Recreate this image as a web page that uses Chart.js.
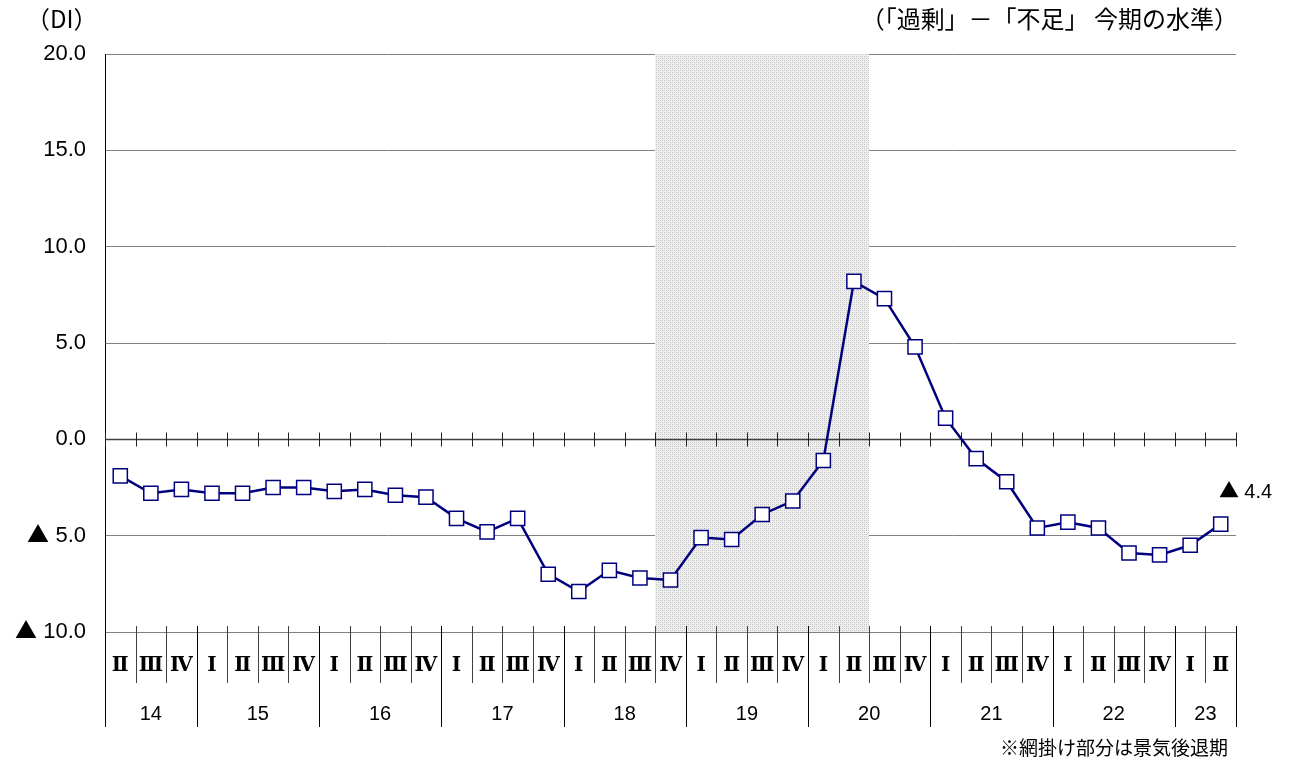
<!DOCTYPE html>
<html>
<head>
<meta charset="utf-8">
<script src="https://cdn.jsdelivr.net/npm/chart.js@4"></script>
<style>
  body { margin: 0; background: #fff; }
  #chart { display: block; }
  /* take only the triangle from the CJK font so it matches the original size */
  @font-face {
    font-family: 'TriMark';
    src: local('Noto Sans CJK JP'), local('Noto Sans CJK JP Regular'), local('NotoSansCJKjp-Regular');
    unicode-range: U+25B2;
  }
</style>
</head>
<body>
<canvas id="chart" width="1292" height="762"></canvas>
<script>
// Years on the lower axis and how many quarters each one has in the chart
const years = ['14', '15', '16', '17', '18', '19', '20', '21', '22', '23'];
const yearQuarters = [
    ['Ⅱ', 'Ⅲ', 'Ⅳ'],
    ['Ⅰ', 'Ⅱ', 'Ⅲ', 'Ⅳ'],
    ['Ⅰ', 'Ⅱ', 'Ⅲ', 'Ⅳ'],
    ['Ⅰ', 'Ⅱ', 'Ⅲ', 'Ⅳ'],
    ['Ⅰ', 'Ⅱ', 'Ⅲ', 'Ⅳ'],
    ['Ⅰ', 'Ⅱ', 'Ⅲ', 'Ⅳ'],
    ['Ⅰ', 'Ⅱ', 'Ⅲ', 'Ⅳ'],
    ['Ⅰ', 'Ⅱ', 'Ⅲ', 'Ⅳ'],
    ['Ⅰ', 'Ⅱ', 'Ⅲ', 'Ⅳ'],
    ['Ⅰ', 'Ⅱ']
];

// DI values (「過剰」－「不足」), one per quarter
const diValues = [
    -1.9, -2.8, -2.6,
    -2.8, -2.8, -2.5, -2.5,
    -2.7, -2.6, -2.9, -3.0,
    -4.1, -4.8, -4.1, -7.0,
    -7.9, -6.8, -7.2, -7.3,
    -5.1, -5.2, -3.9, -3.2,
    -1.1, 8.2, 7.3, 4.8,
    1.1, -1.0, -2.2, -4.6,
    -4.3, -4.6, -5.9, -6.0,
    -5.5, -4.4
];

// Y axis ticks and their printed text
const yTickValues = [20, 15, 10, 5, 0, -5, -10];
const yTickTexts = ['20.0', '15.0', '10.0', '5.0', '0.0', '▲ 5.0', '▲ 10.0'];

// Recession (shaded) period, first and last quarter
const recessionFrom = '18-Ⅳ';
const recessionTo = '20-Ⅱ';

const lastValueText = '▲ 4.4';
const unitText = '（DI）';
const titleText = '（「過剰」－「不足」 今期の水準）';
const noteText = '※網掛け部分は景気後退期';

// category ids like "18-Ⅳ"
const categories = [];
years.forEach((yr, i) => yearQuarters[i].forEach(q => categories.push(yr + '-' + q)));

const numFont = 'TriMark, "Liberation Sans", "Noto Sans CJK JP", sans-serif';
const jpFont = '"Noto Sans CJK JP", sans-serif';
const romanFont = '"DejaVu Serif", "Liberation Serif", serif';

// crosshatch fill for the recession band
const makeHatch = (ctx) => {
    const c = document.createElement('canvas');
    c.width = 4; c.height = 4;
    const p = c.getContext('2d');
    p.fillStyle = '#efefef';
    p.fillRect(0, 0, 4, 4);
    p.fillStyle = '#c0c0c0';
    p.fillRect(0, 0, 1, 1);
    p.fillRect(2, 2, 1, 1);
    p.fillStyle = '#d4d4d4';
    p.fillRect(2, 0, 1, 1);
    p.fillRect(0, 2, 1, 1);
    return ctx.createPattern(c, 'repeat');
};

const decorPlugin = {
    id: 'decor',
    beforeDatasetsDraw(chart) {
        const { ctx, chartArea: a, scales: { x, y } } = chart;
        const half = (x.getPixelForValue(1) - x.getPixelForValue(0)) / 2;
        const edge = i => Math.round(x.getPixelForValue(i) - half) + 0.5;

        // shaded recession band
        const i0 = categories.indexOf(recessionFrom);
        const i1 = categories.indexOf(recessionTo) + 1;
        ctx.save();
        ctx.fillStyle = makeHatch(ctx);
        ctx.fillRect(edge(i0) - 0.5, a.top, edge(i1) - edge(i0), a.bottom - a.top);

        // zero line with quarter ticks
        const y0 = Math.round(y.getPixelForValue(0)) + 0.5;
        ctx.strokeStyle = '#404040';
        ctx.lineWidth = 1.5;
        ctx.beginPath();
        ctx.moveTo(a.left, y0);
        ctx.lineTo(a.right, y0);
        ctx.stroke();

        // year boundaries
        const yearEdges = [0];
        yearQuarters.forEach(q => yearEdges.push(yearEdges[yearEdges.length - 1] + q.length));

        ctx.lineWidth = 1;
        for (let i = 0; i <= categories.length; i++) {
            const bx = edge(i);
            ctx.strokeStyle = '#202020';
            ctx.beginPath();
            ctx.moveTo(bx, y0 - 7);
            ctx.lineTo(bx, y0 + 7);
            ctx.stroke();
            const isYear = yearEdges.includes(i);
            ctx.strokeStyle = isYear ? '#000' : '#404040';
            ctx.beginPath();
            ctx.moveTo(bx, a.bottom - 6);
            ctx.lineTo(bx, a.bottom + (isYear ? 95 : 51));
            ctx.stroke();
        }
        ctx.restore();
    },
    afterDraw(chart) {
        const { ctx, chartArea: a, scales: { x, y } } = chart;
        ctx.save();
        ctx.fillStyle = '#000';
        ctx.textBaseline = 'middle';

        // year labels, centred under their quarters
        ctx.font = '20px ' + numFont;
        ctx.textAlign = 'center';
        let start = 0;
        years.forEach((yr, i) => {
            const n = yearQuarters[i].length;
            const cx = (x.getPixelForValue(start) + x.getPixelForValue(start + n - 1)) / 2;
            ctx.fillText(yr, cx, a.bottom + 82);
            start += n;
        });

        // label for the latest value
        const last = diValues.length - 1;
        ctx.font = '20px ' + numFont;
        ctx.textAlign = 'left';
        ctx.fillText(lastValueText, x.getPixelForValue(last) - 2, y.getPixelForValue(diValues[last]) - 32);

        // titles and note
        ctx.font = '24px ' + jpFont;
        ctx.textAlign = 'left';
        ctx.fillText(unitText, 26, 19);
        ctx.textAlign = 'right';
        ctx.fillText(titleText, 1238, 19);
        ctx.font = '19px ' + jpFont;
        ctx.fillText(noteText, 1228, 748);
        ctx.restore();
    }
};

const drawChart = () => {
    const ctx = document.getElementById('chart').getContext('2d');
    new Chart(ctx, {
        type: 'line',
        data: {
            labels: categories,
            datasets: [{
                data: diValues,
                borderColor: '#00007f',
                borderWidth: 2.5,
                pointStyle: 'rect',
                pointRadius: 10,
                pointBorderWidth: 1.5,
                pointBorderColor: '#00007f',
                pointBackgroundColor: '#fff',
                tension: 0
            }]
        },
        options: {
            responsive: false,
            animation: false,
            layout: { padding: { top: 54, right: 56, bottom: 0, left: 0 } },
            plugins: {
                legend: { display: false },
                tooltip: { enabled: false }
            },
            scales: {
                x: {
                    offset: true,
                    grid: { display: false, drawTicks: false },
                    border: { display: false },
                    ticks: {
                        autoSkip: false,
                        maxRotation: 0,
                        padding: 22,
                        color: '#000',
                        font: { family: romanFont, size: 20, weight: 'bold' },
                        callback: (v, i) => categories[i].split('-')[1]
                    },
                    afterFit: (s) => { s.height = 130; }
                },
                y: {
                    min: -10,
                    max: 20,
                    afterBuildTicks: (s) => { s.ticks = yTickValues.map(v => ({ value: v })); },
                    grid: {
                        color: (c) => c.tick && c.tick.value === 0 ? 'rgba(0,0,0,0)' : '#808080',
                        lineWidth: 1,
                        drawTicks: false
                    },
                    border: { display: true, color: '#000', width: 1 },
                    ticks: {
                        padding: 19,
                        color: '#000',
                        font: { family: numFont, size: 22 },
                        callback: (v) => yTickTexts[yTickValues.indexOf(v)]
                    },
                    afterFit: (s) => { s.width = 105; }
                }
            }
        },
        plugins: [decorPlugin]
    });
};

// wait for the triangle face before drawing on the canvas
document.fonts.load('20px TriMark', '▲').then(drawChart, drawChart);
</script>
</body>
</html>
